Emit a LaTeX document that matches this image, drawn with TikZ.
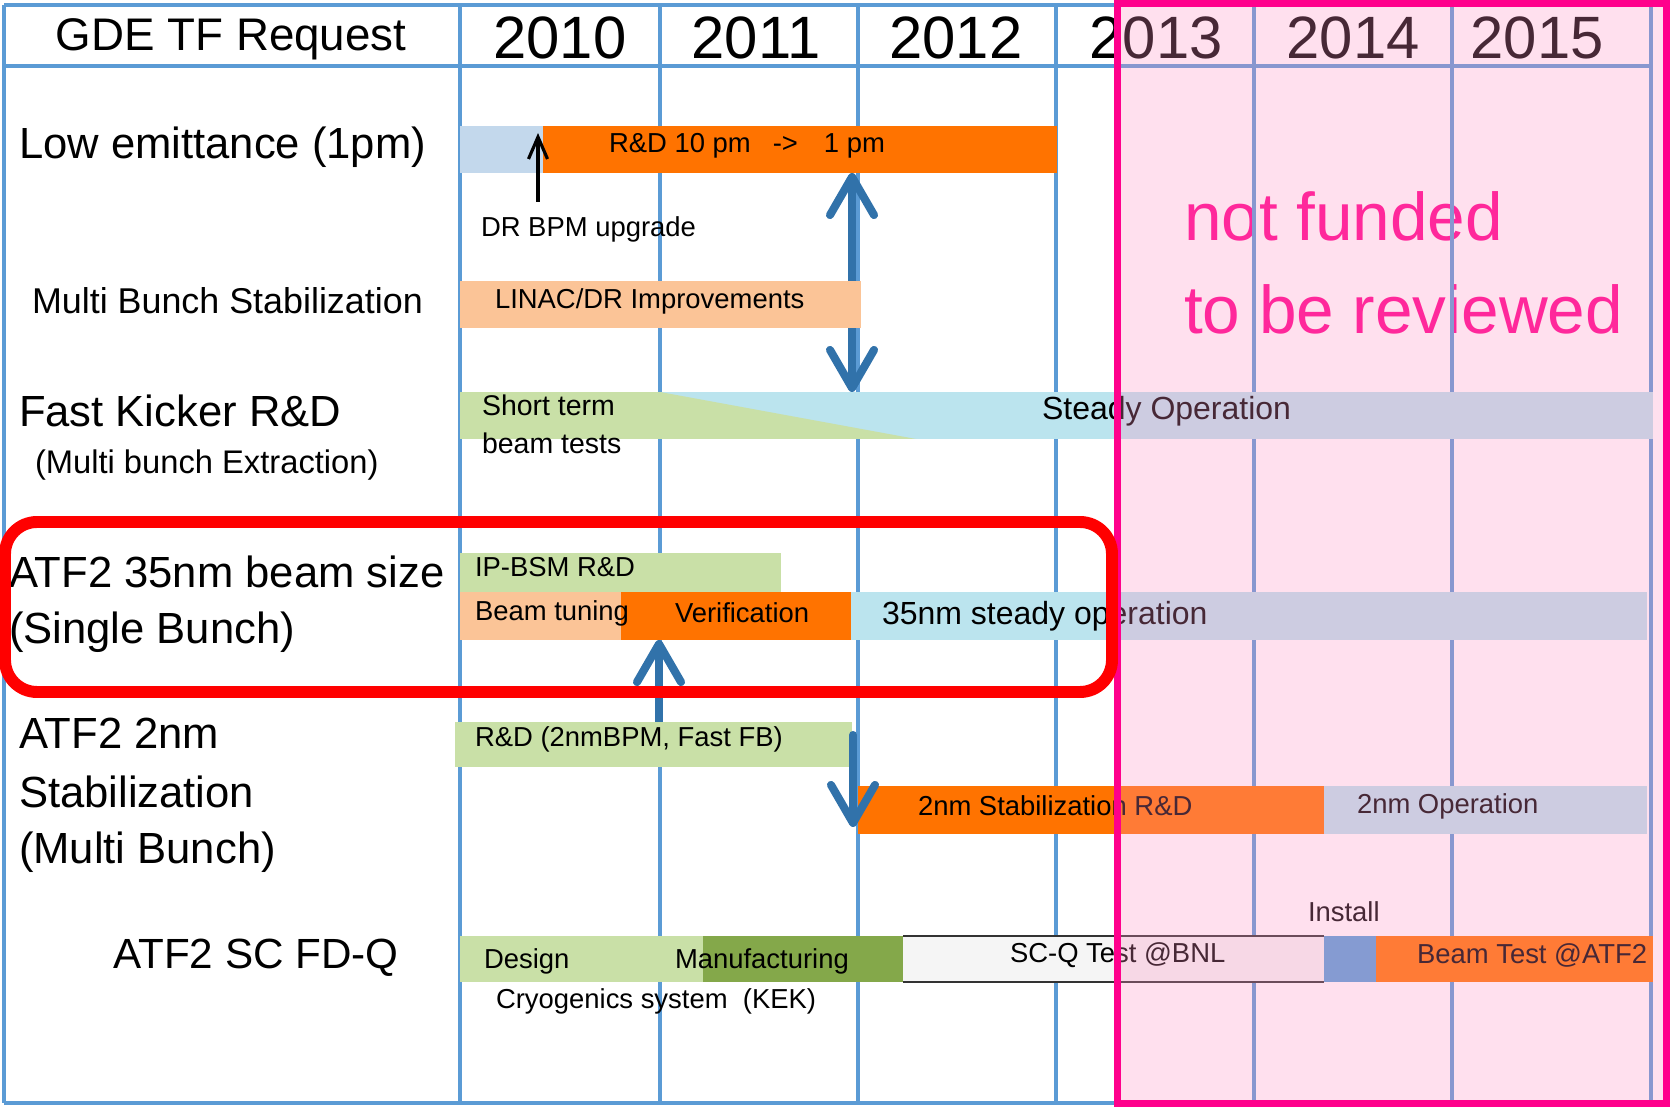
\documentclass[tikz,border=0pt]{standalone}
\usepackage{fontspec}
\setmainfont{Liberation Sans}
\usetikzlibrary{arrows.meta, fit}
\definecolor{grid-blue}{HTML}{5B9BD5}
\definecolor{arrow-blue}{HTML}{3172AA}
\definecolor{bar-orange}{HTML}{FF7300}
\definecolor{bar-peach}{HTML}{FBC497}
\definecolor{bar-green}{HTML}{C9E0A7}
\definecolor{bar-dkgreen}{HTML}{84A84A}
\definecolor{bar-cyan}{HTML}{BBE4EE}
\definecolor{bar-sky}{HTML}{C3D8EC}
\definecolor{bar-install}{HTML}{57A0D9}
\definecolor{box-grey}{HTML}{F5F5F5}
\definecolor{hot-pink}{HTML}{FF008C}
\definecolor{veil-pink}{RGB}{255,144,194}
\definecolor{alert-red}{HTML}{FF0000}
\pgfdeclarelayer{grid}
\pgfdeclarelayer{back}
\pgfdeclarelayer{over}
\pgfsetlayers{grid,back,main,over}

\begin{document}
\begin{tikzpicture}[x=0.01cm, y=-0.01cm,
    every node/.style={inner sep=0pt, outer sep=0pt},
    bar/.style={inner sep=0pt, outer sep=0pt, draw=none},
    rowlab/.style={anchor=west, font=\fontsize{12.4}{14}\selectfont},
    sublab/.style={anchor=west, font=\fontsize{10.2}{12}\selectfont},
    bartxt/.style={anchor=west, font=\fontsize{7.8}{9}\selectfont},
    optxt/.style={anchor=west, font=\fontsize{9.1}{11}\selectfont},
    yeartxt/.style={font=\fontsize{17}{20}\selectfont},
    pinktxt/.style={anchor=west, text=hot-pink, font=\fontsize{19.2}{22}\selectfont},
    gridline/.style={grid-blue, line width=1.1pt},
    flow/.style={arrow-blue, line width=2.3pt, line cap=round,
      >={Straight Barb[length=3.8mm, width=4.4mm, line cap=round, line join=round]}},
    pointer/.style={black, line width=0.9pt, -{Straight Barb[length=2.2mm, width=1.9mm]}}]
  \useasboundingbox (0,0) rectangle (1670,1107);

  % table grid
  \begin{pgfonlayer}{grid}
    \node[pinktxt] (nofund) at (1184,216) {not funded};
    \node[pinktxt] (review) at (1184,309) {to be reviewed};
    \foreach \gx in {4,460,660,858,1056,1254,1452,1651}
      \draw[gridline] (\gx,5) -- (\gx,1103);
    \foreach \gy in {5,66,1103}
      \draw[gridline] (4,\gy) -- (1651,\gy);
  \end{pgfonlayer}

  % header
  \node[font=\fontsize{13}{15}\selectfont] (hdr) at (231,39) {GDE TF Request};
  \foreach \yr/\cx in {2010/560, 2011/756, 2012/956, 2013/1156, 2014/1353, 2015/1537}
    \node[yeartxt] (yr\yr) at (\cx,38) {\yr};

  % row labels
  \node[rowlab] (lowemit) at (19,147) {Low emittance (1pm)};
  \node[sublab] (mbstab) at (32,301) {Multi Bunch Stabilization};
  \node[rowlab] (kicker) at (19,411) {Fast Kicker R\&D};
  \node[sublab, font=\fontsize{9.3}{11}\selectfont] (extract) at (35,465) {(Multi bunch Extraction)};
  \node[rowlab] (atfsize) at (9,572) {ATF2 35nm beam size};
  \node[rowlab] (single) at (9,632) {(Single Bunch)};
  \node[rowlab] (atftwo) at (19,733) {ATF2 2nm};
  \node[rowlab] (stabil) at (19,792) {Stabilization};
  \node[rowlab] (multi) at (19,852) {(Multi Bunch)};
  \node[font=\fontsize{12}{14}\selectfont] (fdq) at (256,958) {ATF2 SC FD-Q};

  % low emittance
  \node[bar, fill=bar-sky, fit={(460,126)(543,173)}] (b1a) {};
  \node[bar, fill=bar-orange, fit={(543,126)(1057,173)}] (b1b) {};
  \node[bartxt] (rdpm) at (609,146) {R\&D 10 pm\hspace{2.2mm}->\hspace{2.6mm}1 pm};
  \node[bartxt] (bpmlab) at (481,229) {DR BPM upgrade};
  \coordinate (bpm) at (538,202);
  \draw[pointer, shorten >=0.07cm] (bpm) -- (bpm |- b1a.north);

  % multi bunch stabilization
  \node[bar, fill=bar-peach, fit={(460,281)(861,328)}] (b2) {};
  \node[bartxt] (linac) at (495,301) {LINAC/DR Improvements};

  % fast kicker
  \node[bar, fill=bar-green, fit={(460,392)(660,439)}] (b3a) {};
  \node[bar, fill=bar-cyan, fit={(660,392)(1653,439)}] (b3b) {};
  \fill[bar-green] (b3b.north west) -- (916,439) -- (b3b.south west) -- cycle;
  \node[bartxt, font=\fontsize{8.1}{9}\selectfont] (short) at (482,405) {Short term};
  \node[bartxt, font=\fontsize{8.1}{9}\selectfont] (btest) at (482,443) {beam tests};
  \node[optxt] (steady) at (1042,411) {Steady Operation};
  \coordinate (dbl) at (852,0);
  \begin{pgfonlayer}{back}
    \draw[flow, <->] (dbl |- b1b.south) -- (dbl |- b3b.north);
  \end{pgfonlayer}

  % ATF2 35nm
  \node[bar, fill=bar-green, fit={(460,553)(781,592)}] (b4a) {};
  \node[bar, fill=bar-peach, fit={(460,592)(621,640)}] (b4b) {};
  \node[bar, fill=bar-orange, fit={(621,592)(851,640)}] (b4c) {};
  \node[bar, fill=bar-cyan, fit={(851,592)(1647,640)}] (b4d) {};
  \node[bartxt] (ipbsm) at (475,567) {IP-BSM R\&D};
  \node[bartxt] (tuning) at (475,613) {Beam tuning};
  \node[bartxt] (verif) at (675,613) {Verification};
  \node[optxt] (steadyop) at (882,616) {35nm steady operation};

  % ATF2 2nm
  \node[bar, fill=bar-green, fit={(455,722)(852,767)}] (b5a) {};
  \node[bar, fill=bar-orange, fit={(858,786)(1324,834)}] (b5b) {};
  \node[bar, fill=bar-cyan, fit={(1324,786)(1647,834)}] (b5c) {};
  \node[bartxt] (rdbpm) at (475,739) {R\&D (2nmBPM, Fast FB)};
  \node[bartxt] (stabrd) at (918,806) {2nm Stabilization R\&D};
  \node[bartxt] (twoop) at (1357,806) {2nm Operation};
  \coordinate (upx) at (659,0);
  \begin{pgfonlayer}{back}
    \draw[flow, ->] (upx |- b5a.north) -- (upx |- b4b.south);
  \end{pgfonlayer}
  \coordinate (dn) at (853,735);
  \draw[flow, ->, shorten >=0.07cm] (dn) -- (dn |- b5b.south);

  % ATF2 SC FD-Q
  \node[bar, fill=bar-green, fit={(460,936)(703,982)}] (b6a) {};
  \node[bar, fill=bar-dkgreen, fit={(703,936)(903,982)}] (b6b) {};
  \node[bar, fill=box-grey, fit={(903,936)(1324,982)}] (b6c) {};
  \node[bar, fill=bar-install, fit={(1324,936)(1376,982)}] (b6d) {};
  \node[bar, fill=bar-orange, fit={(1376,936)(1653,982)}] (b6e) {};
  \draw[black!80, line width=0.6pt] (b6c.north west) -- (b6c.north east);
  \draw[black!80, line width=0.6pt] (b6c.south west) -- (b6c.south east);
  \node[bartxt] (design) at (484,961) {Design};
  \node[bartxt] (manuf) at (675,961) {Manufacturing};
  \node[bartxt] (bnl) at (1010,955) {SC-Q Test @BNL};
  \node[bartxt] (beamtest) at (1417,955) {Beam Test @ATF2};
  \node[bartxt] (install) at (1308,912) {Install};
  \node[bartxt] (cryo) at (496,1001) {Cryogenics system\ \ (KEK)};

  % not funded region and highlight
  \begin{pgfonlayer}{over}
    \fill[veil-pink, opacity=0.28] (1117,3) rectangle (1666,1104);
    \draw[hot-pink, line width=2pt] (1117,3) rectangle (1666,1104);
    \node[draw=alert-red, line width=3.4pt, rounded corners=0.32cm,
      fit={(5,522)(1112,692)}] (focus) {};
  \end{pgfonlayer}
\end{tikzpicture}
\end{document}
